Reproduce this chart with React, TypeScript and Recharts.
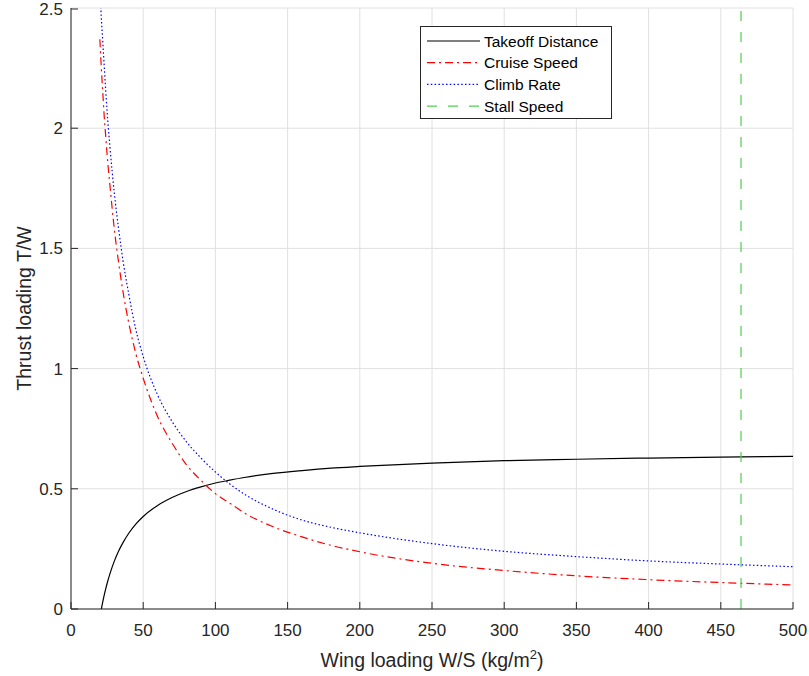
import React from "react";
import {
  LineChart,
  Line,
  XAxis,
  YAxis,
  CartesianGrid,
  ReferenceLine,
} from "recharts";

const FONT = '"Liberation Sans", Arial, Helvetica, sans-serif';
const INK = "#262626";

// wing loading W/S (kg/m^2)
const wingLoading = [
  20, 21, 22, 23, 24, 25, 27, 30, 33, 36, 40, 45, 50, 60, 70, 80, 90, 100, 110, 120,
  140, 160, 180, 200, 250, 300, 350, 400, 450, 500,
];
const takeoffDistance = [
  null, 0, 0.03, 0.058, 0.083, 0.106, 0.147, 0.199, 0.241, 0.276, 0.315, 0.354, 0.385,
  0.431, 0.464, 0.489, 0.508, 0.524, 0.536, 0.547, 0.564, 0.576, 0.586, 0.593, 0.607,
  0.617, 0.623, 0.628, 0.632, 0.635,
];
const cruiseSpeed = [
  2.37, 2.25, 2.15, 2.05, 1.97, 1.89, 1.76, 1.58, 1.44, 1.32, 1.19, 1.06, 0.96, 0.8,
  0.69, 0.6, 0.535, 0.48, 0.44, 0.4, 0.342, 0.3, 0.265, 0.238, 0.19, 0.16, 0.138, 0.122,
  0.11, 0.1,
];
const climbRate = [
  2.6, 2.46, 2.36, 2.26, 2.16, 2.07, 1.92, 1.73, 1.58, 1.45, 1.31, 1.16, 1.05, 0.89,
  0.78, 0.695, 0.628, 0.57, 0.52, 0.478, 0.415, 0.37, 0.34, 0.317, 0.272, 0.24, 0.218,
  0.2, 0.187, 0.176,
];
const stallSpeed = 464;

const xTicks = [0, 50, 100, 150, 200, 250, 300, 350, 400, 450, 500];
const yTicks = [0, 0.5, 1, 1.5, 2, 2.5];

const data = wingLoading.map((x, i) => ({
  x,
  takeoff: takeoffDistance[i],
  cruise: cruiseSpeed[i],
  climb: climbRate[i],
}));

const series = [
  { name: "Takeoff Distance", color: "#000000", dash: undefined as string | undefined },
  { name: "Cruise Speed", color: "#ff0000", dash: "8 4 2 4" },
  { name: "Climb Rate", color: "#0000ff", dash: "1.5 2.3" },
  { name: "Stall Speed", color: "#4fcf4f", dash: "10 11" },
];

const XTick = (props: any) => {
  const { x, y, payload } = props;
  return (
    <g>
      <line x1={x} x2={x} y1={y} y2={y - 7} stroke={INK} />
      <text x={x} y={y + 27} textAnchor="middle" fill={INK} fontSize={17} fontFamily={FONT}>
        {payload.value}
      </text>
    </g>
  );
};

const YTick = (props: any) => {
  const { x, y, payload } = props;
  return (
    <g>
      <line x1={x} x2={x + 7} y1={y} y2={y} stroke={INK} />
      <text x={x - 8} y={y + 6} textAnchor="end" fill={INK} fontSize={17} fontFamily={FONT}>
        {payload.value}
      </text>
    </g>
  );
};

const LegendBox = () => (
  <svg width={193} height={94} style={{ display: "block" }}>
    <rect x={0.5} y={0.5} width={191} height={92} fill="#fff" stroke={INK} />
    {series.map((s, i) => {
      const cy = 15 + i * 21.7;
      return (
        <g key={s.name}>
          <line x1={7} x2={60} y1={cy} y2={cy} stroke={s.color} strokeDasharray={s.dash} strokeWidth={1.2} />
          <text x={64} y={cy + 5.5} fill="#000" fontSize={15.5} fontFamily={FONT}>
            {s.name}
          </text>
        </g>
      );
    })}
  </svg>
);

export default function App() {
  return (
    <div style={{ position: "absolute", left: 0, top: 0, width: 809, height: 676, background: "#fff" }}>
      <LineChart
        width={809}
        height={676}
        data={data}
        margin={{ top: 8, right: 16, bottom: 0, left: 0 }}
      >
        <CartesianGrid stroke="#e0e0e0" />
        <XAxis
          type="number"
          dataKey="x"
          domain={[0, 500]}
          ticks={xTicks}
          height={67}
          tickSize={0}
          tickMargin={0}
          tickLine={false}
          axisLine={{ stroke: INK }}
          tick={<XTick />}
          label={{
            content: ({ viewBox }: any) => (
              <text
                x={viewBox.x + viewBox.width / 2}
                y={viewBox.y + 58}
                textAnchor="middle"
                fill={INK}
                fontSize={19.5}
                fontFamily={FONT}
              >
                Wing loading W/S (kg/m
                <tspan dy={-8} fontSize={13}>2</tspan>
                <tspan dy={8}>)</tspan>
              </text>
            ),
          }}
        />
        <YAxis
          type="number"
          domain={[0, 2.5]}
          ticks={yTicks}
          width={71}
          allowDataOverflow
          tickSize={0}
          tickMargin={0}
          tickLine={false}
          axisLine={{ stroke: INK }}
          tick={<YTick />}
          label={{
            content: ({ viewBox }: any) => {
              const cy = viewBox.y + viewBox.height / 2;
              return (
                <text
                  x={23.5}
                  y={cy}
                  transform={`rotate(-90 23.5 ${cy})`}
                  textAnchor="middle"
                  dominantBaseline="central"
                  fill={INK}
                  fontSize={19.5}
                  fontFamily={FONT}
                >
                  Thrust loading T/W
                </text>
              );
            },
          }}
        />
        <Line
          type="monotone"
          dataKey="takeoff"
          name="Takeoff Distance"
          stroke="#000000"
          strokeWidth={1.2}
          dot={false}
          isAnimationActive={false}
        />
        <Line
          type="monotone"
          dataKey="cruise"
          name="Cruise Speed"
          stroke="#ff0000"
          strokeDasharray="8 4 2 4"
          strokeWidth={1.2}
          dot={false}
          isAnimationActive={false}
        />
        <Line
          type="monotone"
          dataKey="climb"
          name="Climb Rate"
          stroke="#0000ff"
          strokeDasharray="1.5 2.3"
          strokeWidth={1.2}
          dot={false}
          isAnimationActive={false}
        />
        <ReferenceLine x={stallSpeed} stroke="#4fcf4f" strokeDasharray="10 11" strokeWidth={1.2} />
      </LineChart>
      <div style={{ position: "absolute", left: 420, top: 26 }}>
        <LegendBox />
      </div>
    </div>
  );
}
